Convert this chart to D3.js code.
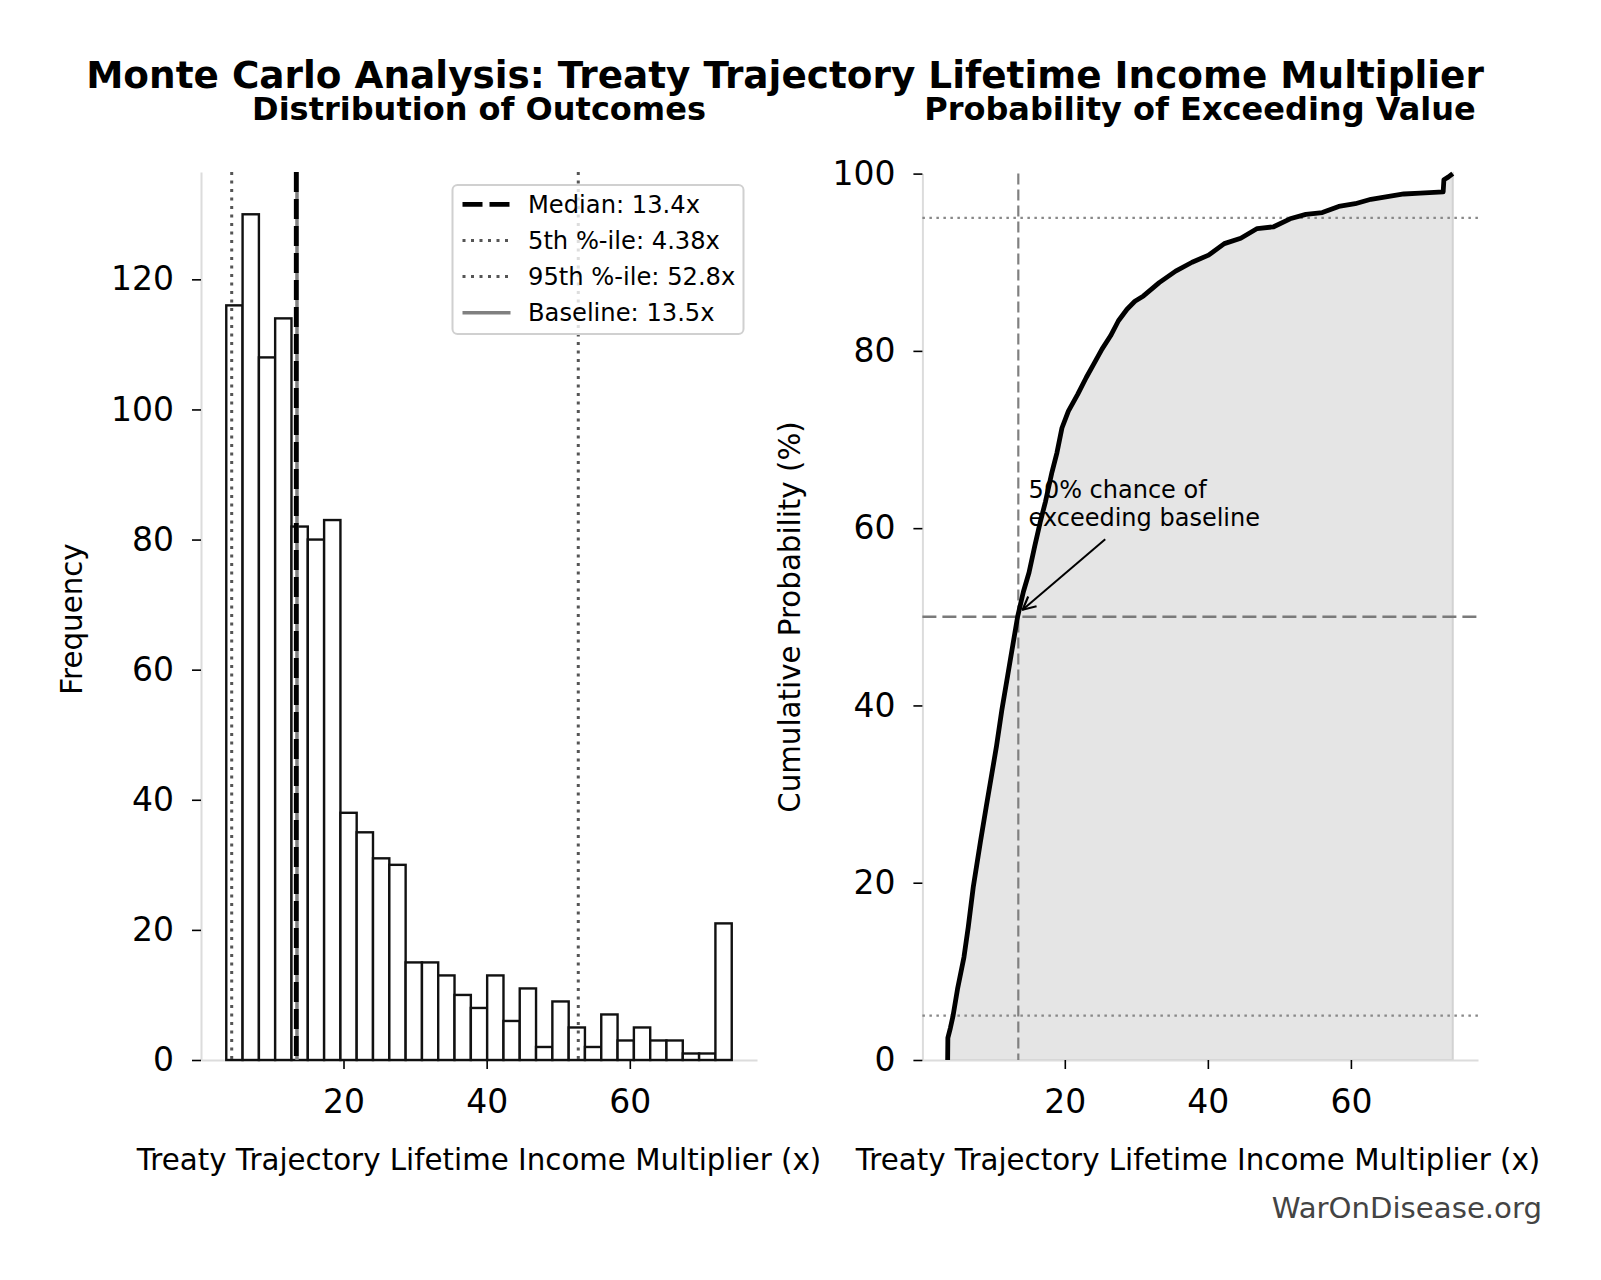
<!DOCTYPE html>
<html>
<head>
<meta charset="utf-8">
<script src="https://cdn.jsdelivr.net/npm/d3@7"></script>
<style>
  body { margin: 0; background: #fff; }
  text { font-family: "DejaVu Sans", sans-serif; fill: #000; }
</style>
</head>
<body>
<script>
// histogram: bin edges + counts (1000 runs)
var binEdges = [3.62, 5.90, 8.18, 10.45, 12.73, 15.01, 17.29, 19.57, 21.84, 24.12, 26.40,
                28.68, 30.96, 33.23, 35.51, 37.79, 40.07, 42.35, 44.62, 46.90, 49.18,
                51.46, 53.73, 56.01, 58.29, 60.57, 62.85, 65.12, 67.40, 69.68, 71.96, 74.24];
var binCounts = [116, 130, 108, 114, 82, 80, 83, 38, 35, 31, 30, 15, 15, 13, 10, 8,
                 13, 6, 11, 2, 9, 5, 2, 7, 3, 5, 3, 3, 1, 1, 21];

// cumulative curve (x value, cumulative %)
var cdfX = [3.62, 3.65, 4.0, 4.38, 5.0, 5.9, 6.5, 7.2, 8.2, 9.0, 9.8, 10.45, 11.2, 12.0, 12.73,
            13.4, 14.2, 15.0, 15.8, 16.6, 17.3, 18.2, 18.9, 19.6, 20.5, 21.8, 23.0, 24.1, 25.2,
            26.4, 27.5, 28.7, 29.8, 31.0, 33.2, 35.5, 37.8, 40.1, 42.3, 44.6, 46.9, 49.2, 51.5,
            53.7, 56.0, 58.3, 60.6, 62.8, 65.1, 67.4, 69.7, 72.9, 73.0, 73.6, 74.24];
var cdfY = [0, 2.5, 3.6, 5.0, 8.0, 11.6, 15.0, 19.5, 24.6, 28.5, 32.3, 35.4, 39.5, 43.3, 46.8,
            50.0, 52.8, 55.0, 58.0, 60.8, 63.0, 66.3, 68.5, 71.3, 73.2, 75.1, 77.0, 78.6, 80.2,
            81.7, 83.4, 84.7, 85.6, 86.2, 87.7, 89.0, 90.0, 90.8, 92.1, 92.7, 93.8, 94.0, 94.9,
            95.4, 95.6, 96.3, 96.6, 97.1, 97.4, 97.7, 97.8, 97.95, 99.3, 99.6, 100];

var median = 13.4, p5 = 4.38, p95 = 52.8, baseline = 13.5;
var legendLabels = ["Median: 13.4x", "5th %-ile: 4.38x", "95th %-ile: 52.8x", "Baseline: 13.5x"];
var histYTicks = [0, 20, 40, 60, 80, 100, 120];
var cdfYTicks = [0, 20, 40, 60, 80, 100];
var xTicks = [20, 40, 60];
var pctLines = [5, 95];

var W = 1601, H = 1280;
var svg = d3.select("body").append("svg")
    .attr("width", W).attr("height", H)
    .style("background", "#fff");

var defs = svg.append("defs");
defs.append("marker")
    .attr("id", "arr")
    .attr("viewBox", "0 0 14 14")
    .attr("refX", 13).attr("refY", 7)
    .attr("markerWidth", 15).attr("markerHeight", 15)
    .attr("markerUnits", "userSpaceOnUse")
    .attr("orient", "auto")
  .append("path")
    .attr("d", "M1,1 L13,7 L1,13")
    .attr("fill", "none").attr("stroke", "#000").attr("stroke-width", 2);

// titles
svg.append("text").attr("x", 785).attr("y", 88).attr("text-anchor", "middle")
    .style("font-size", "37.4px").style("font-weight", "bold")
    .text("Monte Carlo Analysis: Treaty Trajectory Lifetime Income Multiplier");
svg.append("text").attr("x", 479).attr("y", 120).attr("text-anchor", "middle")
    .style("font-size", "32px").style("font-weight", "bold")
    .text("Distribution of Outcomes");
svg.append("text").attr("x", 1200).attr("y", 120).attr("text-anchor", "middle")
    .style("font-size", "32px").style("font-weight", "bold")
    .text("Probability of Exceeding Value");

function styleAxis(g) {
  g.select(".domain").attr("stroke", "#dcdcdc").attr("stroke-width", 2);
  g.selectAll(".tick line").attr("stroke", "#000").attr("stroke-width", 1.6);
  g.selectAll(".tick text").style("font-size", "33px").attr("fill", "#000");
}

var plotTop = 172, plotBot = 1060;

// ---------- left: histogram ----------
var xL = d3.scaleLinear().domain([0.09, 77.77]).range([201, 757]);
var yL = d3.scaleLinear().domain([0, 136.5]).range([plotBot, plotTop]);

var left = svg.append("g");

left.append("g").attr("transform", "translate(0," + plotBot + ")")
    .call(d3.axisBottom(xL).tickValues(xTicks).tickSize(9).tickPadding(21).tickSizeOuter(0))
    .call(styleAxis);
left.append("g").attr("transform", "translate(" + xL.range()[0] + ",0)")
    .call(d3.axisLeft(yL).tickValues(histYTicks).tickSize(9).tickPadding(18).tickSizeOuter(0))
    .call(styleAxis);

left.selectAll("rect.bar")
    .data(binCounts)
    .enter().append("rect")
    .attr("class", "bar")
    .attr("x", function(d, i) { return xL(binEdges[i]); })
    .attr("width", function(d, i) { return xL(binEdges[i + 1]) - xL(binEdges[i]); })
    .attr("y", function(d) { return yL(d); })
    .attr("height", function(d) { return yL(0) - yL(d); })
    .attr("fill", "#fff")
    .attr("stroke", "#111")
    .attr("stroke-width", 2.4);

function vline(g, scale, v, y0, y1, color, w, dash) {
  g.append("line")
    .attr("x1", scale(v)).attr("x2", scale(v))
    .attr("y1", y0).attr("y2", y1)
    .attr("stroke", color).attr("stroke-width", w)
    .attr("stroke-dasharray", dash);
}
vline(left, xL, baseline, plotTop, plotBot, "#808080", 3.5, null);
vline(left, xL, p5, plotTop, plotBot, "#555", 3, "3,5.5");
vline(left, xL, p95, plotTop, plotBot, "#555", 3, "3,5.5");
vline(left, xL, median, plotTop, plotBot, "#000", 4.8, "20,7");

// legend
var lg = left.append("g").attr("transform", "translate(452.5,185)");
lg.append("rect").attr("width", 291).attr("height", 149).attr("rx", 5)
    .attr("fill", "#fff").attr("fill-opacity", 0.8)
    .attr("stroke", "#d0d0d0").attr("stroke-width", 2);
var legStyles = [
  {c: "#000", w: 4.8, d: "20,7"},
  {c: "#555", w: 3, d: "3,5.5"},
  {c: "#555", w: 3, d: "3,5.5"},
  {c: "#808080", w: 3.5, d: null}
];
legendLabels.forEach(function(t, i) {
  var cy = 19.4 + i * 36.1;
  lg.append("line").attr("x1", 10).attr("x2", 58).attr("y1", cy).attr("y2", cy)
    .attr("stroke", legStyles[i].c).attr("stroke-width", legStyles[i].w)
    .attr("stroke-dasharray", legStyles[i].d);
  lg.append("text").attr("x", 75.5).attr("y", cy + 8.7)
    .style("font-size", "24.2px").text(t);
});

left.append("text")
    .attr("transform", "translate(82,619) rotate(-90)")
    .attr("text-anchor", "middle").style("font-size", "29.3px")
    .text("Frequency");
left.append("text").attr("x", 479).attr("y", 1170).attr("text-anchor", "middle")
    .style("font-size", "29.3px")
    .text("Treaty Trajectory Lifetime Income Multiplier (x)");

// ---------- right: cumulative ----------
var xR = d3.scaleLinear().domain([0.09, 77.77]).range([922.4, 1478]);
var yR = d3.scaleLinear().domain([0, 100]).range([plotBot, 173.6]);
var cdf = cdfX.map(function(x, i) { return [x, cdfY[i]]; });

var right = svg.append("g");

right.append("path")
    .datum(cdf)
    .attr("d", d3.area().x(function(d) { return xR(d[0]); })
                        .y0(yR(0)).y1(function(d) { return yR(d[1]); }))
    .attr("fill", "#e5e5e5").attr("stroke", "#d2d2d2").attr("stroke-width", 2);

right.append("g").attr("transform", "translate(0," + plotBot + ")")
    .call(d3.axisBottom(xR).tickValues(xTicks).tickSize(9).tickPadding(21).tickSizeOuter(0))
    .call(styleAxis);
right.append("g").attr("transform", "translate(" + xR.range()[0] + ",0)")
    .call(d3.axisLeft(yR).tickValues(cdfYTicks).tickSize(9).tickPadding(18).tickSizeOuter(0))
    .call(styleAxis);

pctLines.forEach(function(p) {
  right.append("line")
    .attr("x1", xR.range()[0]).attr("x2", xR.range()[1])
    .attr("y1", yR(p)).attr("y2", yR(p))
    .attr("stroke", "#888").attr("stroke-width", 2.2)
    .attr("stroke-dasharray", "2.5,4.5");
});
right.append("line")
    .attr("x1", xR.range()[0]).attr("x2", xR.range()[1])
    .attr("y1", yR(50)).attr("y2", yR(50))
    .attr("stroke", "#7a7a7a").attr("stroke-width", 2.6)
    .attr("stroke-dasharray", "14,6");
vline(right, xR, baseline, yR.range()[1], plotBot, "#808080", 2.2, "11,5");

right.append("path")
    .datum(cdf)
    .attr("d", d3.line().x(function(d) { return xR(d[0]); }).y(function(d) { return yR(d[1]); }))
    .attr("fill", "none").attr("stroke", "#000").attr("stroke-width", 4.8)
    .attr("stroke-linejoin", "round");

// annotation
var noteText = ["50% chance of", "exceeding baseline"];
var noteX = 14.94, noteY = [63.35, 60.25];
var arrowFrom = [25.65, 58.76], arrowTo = [14.1, 50.8];
var note = right.append("text").style("font-size", "24px");
noteText.forEach(function(t, i) {
  note.append("tspan").attr("x", xR(noteX)).attr("y", yR(noteY[i])).text(t);
});
right.append("line")
    .attr("x1", xR(arrowFrom[0])).attr("y1", yR(arrowFrom[1]))
    .attr("x2", xR(arrowTo[0])).attr("y2", yR(arrowTo[1]))
    .attr("stroke", "#000").attr("stroke-width", 2)
    .attr("marker-end", "url(#arr)");

right.append("text")
    .attr("transform", "translate(800,617) rotate(-90)")
    .attr("text-anchor", "middle").style("font-size", "29.3px")
    .text("Cumulative Probability (%)");
right.append("text").attr("x", 1198).attr("y", 1170).attr("text-anchor", "middle")
    .style("font-size", "29.3px")
    .text("Treaty Trajectory Lifetime Income Multiplier (x)");

svg.append("text").attr("x", 1542).attr("y", 1218).attr("text-anchor", "end")
    .style("font-size", "29.2px").style("fill", "#444")
    .text("WarOnDisease.org");
</script>
</body>
</html>
